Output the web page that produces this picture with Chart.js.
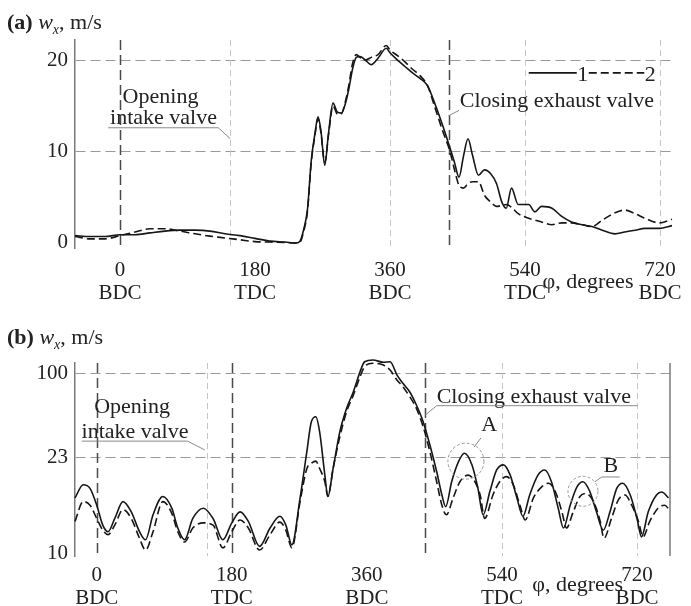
<!DOCTYPE html>
<html>
<head>
<meta charset="utf-8">
<script src="https://cdn.jsdelivr.net/npm/chart.js@4.4.1/dist/chart.umd.min.js"></script>
<style>
  html, body { margin: 0; padding: 0; background: #fff; }
  body { width: 691px; height: 606px; position: relative; overflow: hidden;
         font-family: "Liberation Serif", "Times New Roman", serif; color: #222; }
  .panel { position: absolute; left: 0; width: 691px; }
  #wrapA { top: 0; height: 306px; }
  #wrapB { top: 300px; height: 306px; }
  .ttl { position: absolute; left: 7px; font-size: 22px; line-height: 22px; white-space: nowrap; }
  .ttl sub { font-size: 14px; }
</style>
</head>
<body>
<div class="panel" id="wrapA"><canvas id="chartA" width="691" height="306"></canvas></div>
<div class="panel" id="wrapB"><canvas id="chartB" width="691" height="306"></canvas></div>
<div class="ttl" style="top:11px"><b>(a)</b> <i>w<sub>x</sub></i>, m/s</div>
<div class="ttl" style="top:326px"><b>(b)</b> <i>w<sub>x</sub></i>, m/s</div>

<script>
// crank angle ticks, degrees
const tickPhi = [0, 180, 360, 540, 720];
const tickNames = ['BDC', 'TDC', 'BDC', 'TDC', 'BDC'];

// valve events, degrees
const intakeOpenPhi = 147;
const exhaustClosePhi = 438;

// (a) flow velocity, 1 - experiment (solid), 2 - calculation (dashed)
const phiA = [-60, -40, -20, 0, 20, 40, 60, 80, 100, 120, 140, 160, 180, 200, 220,
  235, 240, 245, 250, 255, 260, 264, 268, 273, 278, 284, 290, 295, 300, 305,
  310, 315, 320, 327, 335, 344, 355, 360, 370, 380, 390, 400, 410, 420, 430,
  440, 446, 452, 458, 464, 470, 478, 486, 494, 502, 509, 515, 522, 531, 545,
  553, 562, 576, 589, 602, 616, 629, 643, 660, 673, 687, 700, 719, 736];
const wxA1 = [0.8, 0.7, 0.7, 0.9, 0.9, 1.1, 1.3, 1.4, 1.4, 1.3, 1.0, 0.8, 0.5, 0.2, 0.1,
  0.0, 0.2, 1.5, 3.7, 9.0, 12.0, 13.8, 12.2, 8.5, 12.0, 15.3, 14.3, 14.2, 15.1, 16.8,
  19.0, 20.3, 20.4, 20.0, 19.5, 20.2, 21.3, 20.8, 20.0, 19.3, 18.6, 18.0, 17.2, 15.2, 12.9,
  10.4, 8.8, 7.2, 9.5, 11.4, 9.6, 7.4, 8.0, 7.6, 6.5, 4.5, 3.8, 6.0, 4.2, 4.2,
  3.4, 4.0, 3.8, 2.9, 2.3, 2.0, 1.8, 1.4, 1.0, 1.2, 1.4, 1.6, 1.6, 1.9];
const wxA2 = [0.7, 0.45, 0.45, 0.8, 1.2, 1.55, 1.55, 1.3, 1.0, 0.75, 0.55, 0.35, 0.15, 0.1, 0.05,
  0.0, 0.1, 1.3, 3.5, 8.8, 11.8, 13.6, 12.0, 8.8, 11.8, 15.0, 14.1, 14.1, 15.3, 17.2,
  19.6, 20.6, 20.3, 20.0, 20.3, 20.6, 21.6, 21.1, 20.5, 19.8, 19.0, 18.3, 17.2, 14.8, 12.3,
  10.0, 8.0, 6.3, 6.0, 6.5, 6.7, 6.7, 5.2, 4.5, 4.0, 4.1, 4.2, 3.9, 3.2, 2.7,
  2.5, 2.3, 2.0, 2.2, 2.2, 2.0, 1.8, 2.5, 3.3, 3.6, 3.2, 2.7, 2.2, 2.6];
const yTicksA = [0, 10, 20];

// (b) flow velocity, same two curves
const phiB1 = [-29, -18, -9, 0, 8, 15, 24, 35, 46, 57, 65, 75, 88, 100, 108, 117, 128, 142,
  155, 168, 180, 191, 202, 217, 231, 244, 252, 260, 271, 280, 286, 292, 297, 304, 308,
  315, 324, 333, 342, 351, 357, 368, 382, 391, 400, 408, 417, 426, 435, 444, 453, 460,
  465, 473, 482, 490, 500, 508, 515, 524, 533, 542, 551, 560, 568, 577, 588, 597, 606,
  615, 622, 631, 640, 648, 657, 666, 675, 684, 693, 701, 711, 720, 726, 735, 746, 753, 762];
const wxB1 = [17.5, 19.3, 18.8, 16.5, 13.8, 12.9, 14.7, 17.0, 15.6, 12.9, 11.8, 15.2, 17.7,
  16.1, 13.4, 11.8, 14.7, 16.1, 14.7, 11.8, 14.1, 15.6, 14.3, 10.9, 13.4, 15.0, 13.8, 11.1,
  17.5, 28.3, 55.8, 60.4, 46.7, 20.6, 17.7, 21.5, 46.7, 68.1, 83.3, 101.7, 110.8, 112.4,
  110.3, 110.8, 98.7, 91.0, 83.3, 71.1, 55.8, 34.5, 21.1, 17.9, 16.3, 19.7, 22.4, 26.9,
  22.0, 18.8, 15.2, 18.4, 21.3, 22.0, 20.6, 17.5, 15.0, 17.9, 20.6, 21.3, 19.7, 16.1,
  13.4, 16.5, 19.0, 19.7, 18.4, 15.6, 13.1, 15.6, 18.8, 19.5, 17.9, 14.7, 12.2, 15.6,
  17.9, 18.3, 17.5];
const phiB2 = [-29, -18, -9, 0, 8, 15, 24, 35, 46, 57, 65, 75, 88, 100, 108, 117, 128, 142,
  155, 168, 180, 191, 202, 217, 231, 244, 252, 260, 271, 280, 286, 292, 297, 304, 308,
  315, 324, 333, 342, 351, 357, 368, 382, 391, 400, 408, 417, 426, 435, 444, 453, 460,
  466, 475, 484, 495, 504, 511, 517, 528, 537, 546, 555, 564, 571, 582, 593, 602, 611,
  620, 626, 635, 644, 652, 662, 671, 676, 686, 695, 704, 713, 722, 728, 737, 748, 757, 763];
const wxB2 = [14.3, 17.0, 16.5, 14.7, 13.1, 12.5, 13.8, 15.9, 14.7, 12.0, 10.4, 12.9, 17.0,
  15.4, 12.9, 11.5, 13.4, 14.1, 13.8, 10.7, 12.9, 14.5, 13.4, 10.4, 12.5, 14.2, 13.1, 10.7,
  17.0, 21.5, 22.2, 22.5, 21.5, 19.7, 17.7, 21.5, 42.1, 65.0, 80.3, 97.1, 106.3, 109.4,
  107.8, 103.2, 94.1, 87.9, 78.8, 68.1, 51.2, 28.3, 19.7, 16.5, 15.2, 17.5, 19.7, 20.6,
  19.7, 17.9, 14.7, 17.9, 19.7, 20.4, 19.3, 16.5, 14.5, 17.5, 19.0, 19.5, 18.4, 15.6,
  13.4, 15.6, 17.7, 18.1, 17.0, 14.3, 12.0, 14.7, 17.2, 17.9, 16.5, 14.3, 12.2, 14.3,
  16.1, 16.5, 15.9];
const yTicksB = [10, 23, 100];

// the (b) axis is broken: band 10..23 and band 23..100 get their own heights
const bandHeightsB = [95.5, 84];
function toAxisB(v) {
  const [lo, mid, hi] = yTicksB;
  if (v <= mid) return (v - lo) / (mid - lo) * bandHeightsB[0];
  return bandHeightsB[0] + (v - mid) / (hi - mid) * bandHeightsB[1];
}
const same = v => v;

const ink = '#222';
const serif = '"Liberation Serif", "Times New Roman", serif';
Chart.defaults.font.family = serif;
Chart.defaults.color = ink;

const strokes = {
  dark:      {color: '#4a4a4a', width: 1.5, dash: [10, 5]},
  light:     {color: '#c6c6c6', width: 1,   dash: [6, 4]},
  thin:      {color: '#8a8a8a', width: 1,   dash: []},
  curve:     {color: '#161616', width: 1.6, dash: []},
  curveDash: {color: '#161616', width: 1.6, dash: [8, 4]},
  ring:      {color: '#9a9a9a', width: 1,   dash: [3, 2]},
  edge:      {color: '#7a7a7a', width: 1.5, dash: []}
};

function series(phi, wx, toY, dashed) {
  return {
    data: phi.map((p, i) => ({x: p, y: toY(wx[i])})),
    borderColor: '#161616',
    borderWidth: 1.6,
    borderDash: dashed ? [8, 4] : [],
    pointRadius: 0,
    cubicInterpolationMode: 'monotone',
    fill: false,
    clip: 8
  };
}

// annotation layer: valve lines, captions, legend, rings
function drawNotes(chart, items, toY) {
  const {ctx, chartArea: area, scales: {x, y}} = chart;
  const px = p => x.getPixelForValue(p);
  const py = v => y.getPixelForValue(toY(v));
  ctx.save();
  items.forEach(d => {
    const s = strokes[d.style || 'thin'];
    ctx.strokeStyle = s.color;
    ctx.lineWidth = s.width;
    ctx.setLineDash(s.dash);
    ctx.beginPath();
    if (d.kind === 'vline') {
      const X = Math.round(px(d.phi)) + 0.5;
      ctx.moveTo(X, area.top); ctx.lineTo(X, area.bottom); ctx.stroke();
    } else if (d.kind === 'edge') {
      ctx.moveTo(area.right, area.top); ctx.lineTo(area.right, area.bottom); ctx.stroke();
    } else if (d.kind === 'seg') {
      ctx.moveTo(px(d.phi[0]), py(d.v[0])); ctx.lineTo(px(d.phi[1]), py(d.v[1])); ctx.stroke();
    } else if (d.kind === 'ring') {
      ctx.arc(px(d.phi), py(d.v), d.r, 0, Math.PI * 2); ctx.stroke();
    } else if (d.kind === 'text') {
      ctx.font = '22px ' + serif;
      ctx.fillStyle = ink;
      ctx.textAlign = d.align || 'center';
      ctx.textBaseline = 'middle';
      ctx.fillText(d.text, px(d.phi), d.below != null ? area.bottom + d.below : py(d.v));
    }
  });
  ctx.restore();
}

function notesPlugin(items, toY) {
  return {
    id: 'notes',
    beforeDatasetsDraw(chart) { drawNotes(chart, items.filter(d => d.kind === 'vline'), toY); },
    afterDatasetsDraw(chart) { drawNotes(chart, items.filter(d => d.kind !== 'vline'), toY); }
  };
}

function panelOptions(p) {
  return {
    responsive: false,
    animation: false,
    events: [],
    layout: {padding: {top: p.top, right: p.right, left: 0, bottom: 0}},
    plugins: {legend: {display: false}, tooltip: {enabled: false}},
    scales: {
      x: {
        type: 'linear', min: p.phiMin, max: p.phiMax,
        afterBuildTicks: s => { s.ticks = tickPhi.map(v => ({value: v})); },
        afterFit: s => { s.height = p.xAxisH; },
        ticks: {autoSkip: false, maxRotation: 0, padding: p.xPad, color: ink,
                font: {size: 21, lineHeight: 1.1},
                callback: (v, i) => [String(tickPhi[i]), tickNames[i]]},
        grid: {display: false},
        border: {display: false}
      },
      y: {
        type: 'linear', min: p.yMin, max: p.yMax,
        afterBuildTicks: s => { s.ticks = p.yTicks.map(v => ({value: p.toY(v)})); },
        afterFit: s => { s.width = 75; },
        ticks: {padding: 7, color: ink, font: {size: 21},
                callback: (v, i) => String(p.yTicks[i])},
        grid: {drawTicks: false, lineWidth: 1,
               color: c => c.index === 0 ? 'rgba(0,0,0,0)' : '#9a9a9a'},
        border: {display: true, color: '#7a7a7a', width: 1.5, dash: [10, 5]}
      }
    }
  };
}

const notesA = [
  {kind: 'vline', phi: 0, style: 'dark'},
  {kind: 'vline', phi: intakeOpenPhi, style: 'light'},
  {kind: 'vline', phi: 360, style: 'light'},
  {kind: 'vline', phi: exhaustClosePhi, style: 'dark'},
  {kind: 'vline', phi: 540, style: 'light'},
  {kind: 'vline', phi: 720, style: 'light'},
  {kind: 'text', text: 'Opening', phi: 54, v: 15.9},
  {kind: 'text', text: 'intake valve', phi: 58, v: 13.6},
  {kind: 'seg', phi: [-16, 131], v: [12.6, 12.6]},
  {kind: 'seg', phi: [131, intakeOpenPhi], v: [12.6, 11.4]},
  {kind: 'text', text: 'Closing exhaust valve', phi: 453, v: 15.5, align: 'left'},
  {kind: 'seg', phi: [exhaustClosePhi, 452], v: [13.9, 14.5]},
  {kind: 'seg', phi: [545, 609], v: [18.6, 18.6], style: 'curve'},
  {kind: 'text', text: '1', phi: 617, v: 18.4},
  {kind: 'seg', phi: [625, 699], v: [18.6, 18.6], style: 'curveDash'},
  {kind: 'text', text: '2', phi: 707, v: 18.4},
  {kind: 'text', text: 'φ, degrees', phi: 624, below: 34}
];

const notesB = [
  {kind: 'vline', phi: 0, style: 'dark'},
  {kind: 'vline', phi: intakeOpenPhi, style: 'light'},
  {kind: 'vline', phi: 180, style: 'dark'},
  {kind: 'vline', phi: exhaustClosePhi, style: 'dark'},
  {kind: 'vline', phi: 540, style: 'light'},
  {kind: 'vline', phi: 720, style: 'light'},
  {kind: 'edge', style: 'edge'},
  {kind: 'text', text: 'Opening', phi: 47, v: 69.3},
  {kind: 'text', text: 'intake valve', phi: 51, v: 46.4},
  {kind: 'seg', phi: [-20, 121], v: [38, 38]},
  {kind: 'seg', phi: [121, 144], v: [38, 29.9]},
  {kind: 'text', text: 'Closing exhaust valve', phi: 453, v: 78.5, align: 'left'},
  {kind: 'seg', phi: [453, 721], v: [70.5, 70.5]},
  {kind: 'seg', phi: [exhaustClosePhi, 453], v: [62, 70.5]},
  {kind: 'text', text: 'A', phi: 523, v: 52.8},
  {kind: 'seg', phi: [512, 503], v: [40.9, 32.6]},
  {kind: 'ring', phi: 492, v: 22.5, r: 18, style: 'ring'},
  {kind: 'text', text: 'B', phi: 685, v: 21.8},
  {kind: 'seg', phi: [664, 673], v: [19.7, 20.35]},
  {kind: 'seg', phi: [673, 697], v: [20.35, 20.35]},
  {kind: 'ring', phi: 648, v: 18.4, r: 15, style: 'ring'},
  {kind: 'text', text: 'φ, degrees', phi: 641, below: 29}
];

new Chart(document.getElementById('chartA'), {
  type: 'line',
  data: {datasets: [series(phiA, wxA1, same, false), series(phiA, wxA2, same, true)]},
  options: panelOptions({top: 40, right: 19, xAxisH: 58, xPad: 3,
    phiMin: -60, phiMax: 736, yMin: -0.55, yMax: 22.2, yTicks: yTicksA, toY: same}),
  plugins: [notesPlugin(notesA, same)]
});

new Chart(document.getElementById('chartB'), {
  type: 'line',
  data: {datasets: [series(phiB1, wxB1, toAxisB, false), series(phiB2, wxB2, toAxisB, true)]},
  options: panelOptions({top: 63, right: 21, xAxisH: 50, xPad: 0,
    phiMin: -29, phiMax: 764, yMin: -3, yMax: 190, yTicks: yTicksB, toY: toAxisB}),
  plugins: [notesPlugin(notesB, toAxisB)]
});
</script>
</body>
</html>
